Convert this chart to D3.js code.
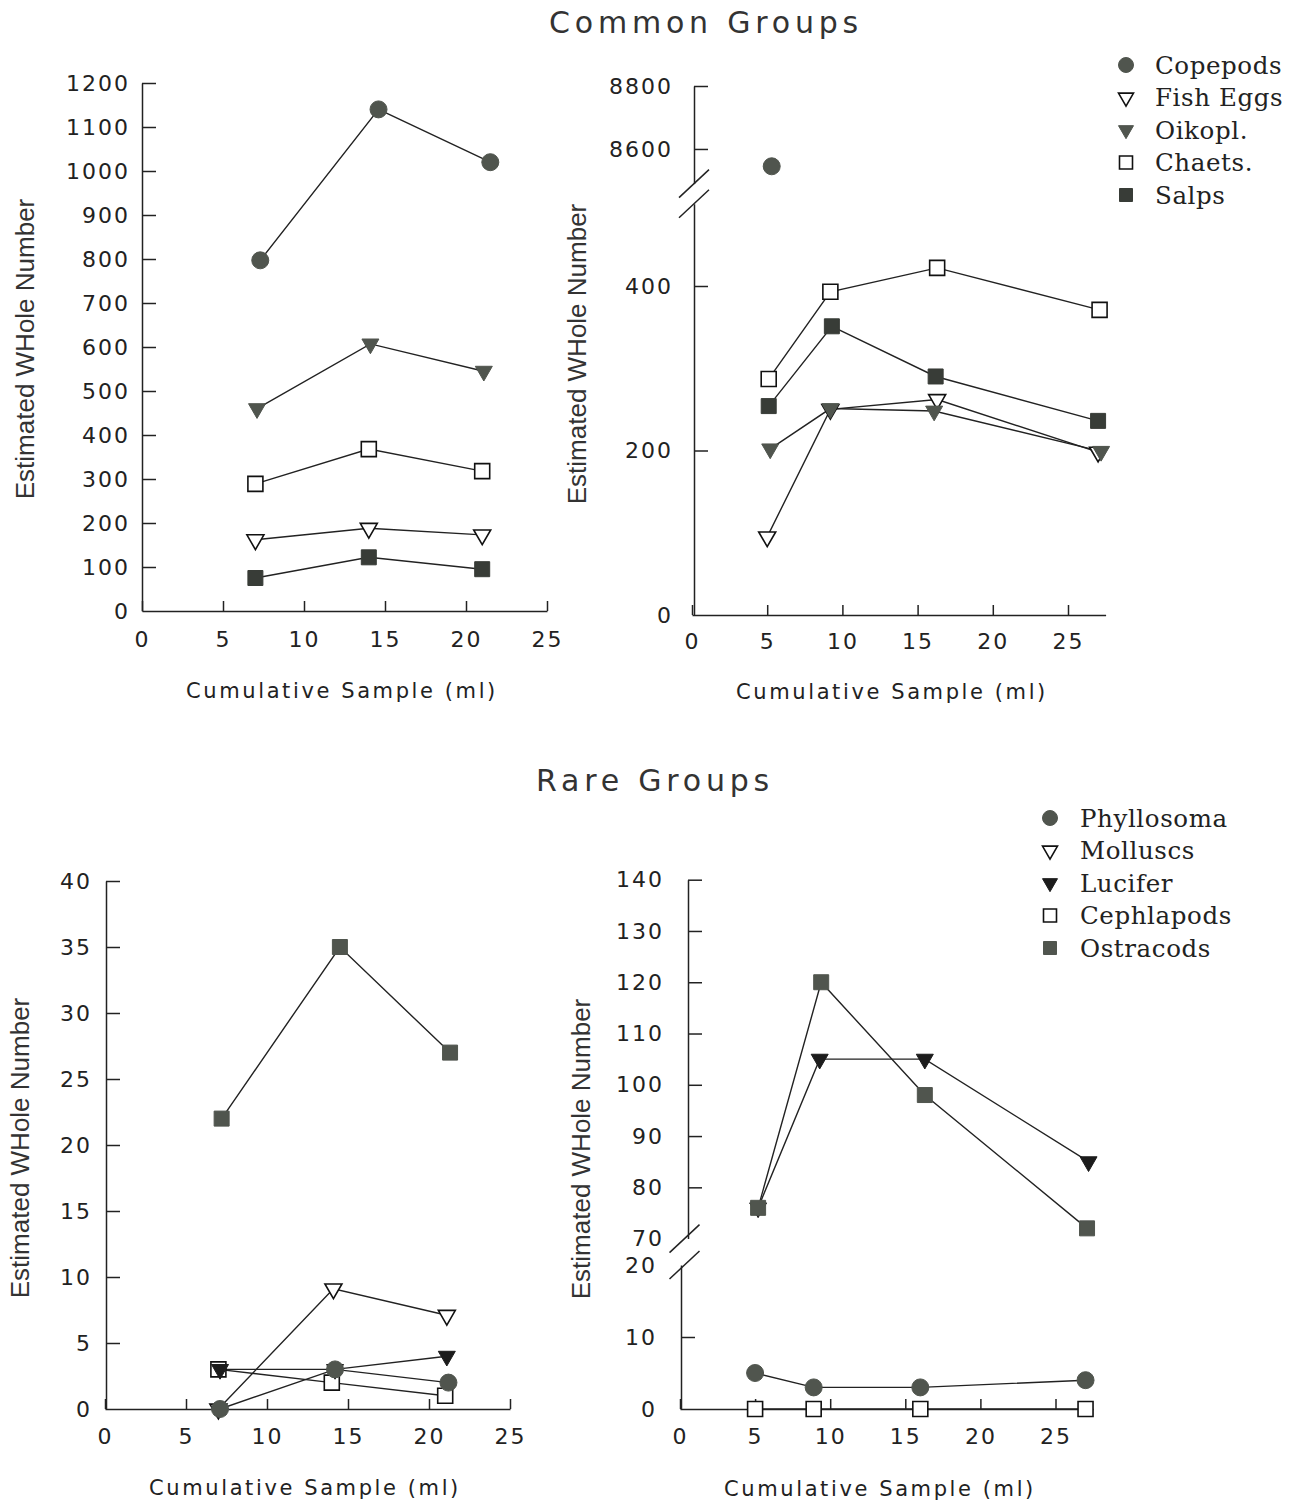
<!DOCTYPE html>
<html>
<head>
<meta charset="utf-8">
<script src="https://cdn.jsdelivr.net/npm/d3@7"></script>
<style>
    body { margin: 0; background: #fff; }
    svg { display: block; }
    .axis .domain, .axis line { stroke: #222; stroke-width: 1.5; }
    .axis text { font-family: "DejaVu Sans", sans-serif; font-size: 22px; letter-spacing: 2px; fill: #222; }
    .xtitle { font-family: "DejaVu Sans", sans-serif; font-size: 21px; letter-spacing: 2.6px; fill: #222; }
    .ytitle { font-family: "Liberation Sans", Arial, sans-serif; font-size: 26px; fill: #333; }
    .title { font-family: "DejaVu Sans", sans-serif; font-size: 30px; letter-spacing: 4.8px; fill: #333; }
    .legend text { font-family: "DejaVu Serif", serif; font-size: 24.5px; letter-spacing: 0.6px; fill: #222; }
</style>
</head>
<body>
<div id="chart"></div>
<script>
// ---- data ----
const commonGroups = ["Copepods", "Fish Eggs", "Oikopl.", "Chaets.", "Salps"];
const rareGroups = ["Phyllosoma", "Molluscs", "Lucifer", "Cephlapods", "Ostracods"];

const xTickValues = [0, 5, 10, 15, 20, 25];
const commonLeftTicks = [0, 100, 200, 300, 400, 500, 600, 700, 800, 900, 1000, 1100, 1200];
const commonRightLowTicks = [0, 200, 400];
const commonRightHighTicks = [8600, 8800];
const rareLeftTicks = [0, 5, 10, 15, 20, 25, 30, 35, 40];
const rareRightLowTicks = [0, 10, 20];
const rareRightHighTicks = [70, 80, 90, 100, 110, 120, 130, 140];

// [cumulative sample (ml), estimated whole number]
const commonLeft = [
    {group: "Copepods",  pts: [[7.3, 797], [14.6, 1140], [21.5, 1020]]},
    {group: "Fish Eggs", pts: [[7.0, 162], [14.0, 188], [21.0, 173]]},
    {group: "Oikopl.",   pts: [[7.1, 460], [14.1, 607], [21.1, 545]]},
    {group: "Chaets.",   pts: [[7.0, 289], [14.0, 368], [21.0, 318]]},
    {group: "Salps",     pts: [[7.0, 75], [14.0, 122], [21.0, 95]]}
];
const commonRight = [
    {group: "Copepods",  pts: [[5.3, 8545]]},
    {group: "Fish Eggs", pts: [[5.0, 95], [9.2, 250], [16.3, 262], [27.0, 198]]},
    {group: "Oikopl.",   pts: [[5.2, 202], [9.2, 251], [16.1, 248], [27.2, 199]]},
    {group: "Chaets.",   pts: [[5.1, 287], [9.2, 393], [16.3, 422], [27.1, 371]]},
    {group: "Salps",     pts: [[5.1, 254], [9.3, 351], [16.2, 290], [27.0, 236]]}
];
// listed in drawing order (later ones sit on top)
const rareLeft = [
    {group: "Cephlapods", pts: [[7.0, 3], [14.0, 2], [21.0, 1]]},
    {group: "Molluscs",   pts: [[7.0, 0], [14.1, 9.1], [21.1, 7.1]]},
    {group: "Lucifer",    pts: [[7.1, 3], [14.2, 3], [21.1, 4]]},
    {group: "Phyllosoma", pts: [[7.1, 0], [14.2, 3], [21.2, 2]]},
    {group: "Ostracods",  pts: [[7.2, 22], [14.5, 35], [21.3, 27]]}
];
const rareRight = [
    {group: "Phyllosoma", pts: [[5.0, 5], [8.9, 3], [16.0, 3], [27.0, 4]]},
    {group: "Lucifer",    pts: [[5.2, 76], [9.3, 105], [16.3, 105], [27.2, 85]]},
    {group: "Cephlapods", pts: [[5.0, 0], [8.9, 0], [16.0, 0], [27.0, 0]]},
    {group: "Ostracods",  pts: [[5.2, 76], [9.4, 120], [16.3, 98], [27.1, 72]]}
];

// ---- marker looks ----
const markerStyle = {
    "Copepods":   {shape: "circle",   fill: "#50554e"},
    "Fish Eggs":  {shape: "triangle", fill: "#fff"},
    "Oikopl.":    {shape: "triangle", fill: "#50554e"},
    "Chaets.":    {shape: "square",   fill: "#fff"},
    "Salps":      {shape: "square",   fill: "#383c37"},
    "Phyllosoma": {shape: "circle",   fill: "#50554e"},
    "Molluscs":   {shape: "triangle", fill: "#fff"},
    "Lucifer":    {shape: "triangle", fill: "#1c1c1c"},
    "Cephlapods": {shape: "square",   fill: "#fff"},
    "Ostracods":  {shape: "square",   fill: "#50554e"}
};

function symbolPath(shape, s) {
    if (shape === "circle") return d3.symbol(d3.symbolCircle, Math.PI * (s / 2) * (s / 2))();
    if (shape === "square") return d3.symbol(d3.symbolSquare, s * s)();
    return d3.symbol(d3.symbolTriangle, Math.sqrt(3) / 4 * s * s)();
}

function drawMarker(sel, group, s) {
    const st = markerStyle[group];
    const size = st.shape === "square" ? s : s + 2;
    sel.append("path")
        .attr("d", symbolPath(st.shape, size))
        .attr("transform", st.shape === "triangle" ? "rotate(180)" : null)
        .attr("fill", st.fill)
        .attr("stroke", st.fill === "#fff" ? "#111" : st.fill)
        .attr("stroke-width", st.fill === "#fff" ? 1.6 : 1);
}

const svg = d3.select("#chart").append("svg")
    .attr("width", 1301)
    .attr("height", 1505)
    .style("background", "#fff");

function panel(p) {
    const g = svg.append("g");
    const xEnd = p.x0 + (p.x25 - p.x0) * p.xMax / 25;
    const x = d3.scaleLinear().domain([0, p.xMax]).range([p.x0, xEnd]);
    const lo = d3.scaleLinear().domain(p.loDomain).range(p.loRange);
    const hi = p.hiDomain ? d3.scaleLinear().domain(p.hiDomain).range(p.hiRange) : null;
    const y = v => (hi && v >= p.hiDomain[0]) ? hi(v) : lo(v);

    // x axis, ticks pointing inward
    g.append("g").attr("class", "axis")
        .attr("transform", `translate(0,${p.loRange[0]})`)
        .call(d3.axisBottom(x).tickValues(xTickValues).tickSize(-10)
            .tickSizeOuter(0).tickPadding(p.xPad).tickFormat(d3.format("d")));

    // y axis (lower part)
    const yl = g.append("g").attr("class", "axis")
        .attr("transform", `translate(${p.yAxisX},0)`)
        .call(d3.axisLeft(lo).tickValues(p.loTicks).tickSize(-14)
            .tickSizeOuter(0).tickPadding(p.yPad).tickFormat(d3.format("d")));
    yl.selectAll(".tick").filter(d => d === 0).select("line").remove();

    if (hi) {
        const yh = g.append("g").attr("class", "axis")
            .attr("transform", `translate(${p.yAxisXHi},0)`)
            .call(d3.axisLeft(hi).tickValues(p.hiTicks).tickSize(-14)
                .tickSizeOuter(0).tickPadding(p.yPad).tickFormat(d3.format("d")));
        if (p.bare) {
            yl.selectAll(".tick").filter(d => p.bare.includes(d)).select("line").remove();
            yh.selectAll(".tick").filter(d => p.bare.includes(d)).select("line").remove();
        }
        // break marks
        const bx = (p.yAxisX + p.yAxisXHi) / 2;
        [hi.range()[0], lo.range()[1]].forEach(by => {
            g.append("line")
                .attr("x1", bx - 15).attr("y1", by + 14)
                .attr("x2", bx + 15).attr("y2", by - 14)
                .attr("stroke", "#222").attr("stroke-width", 1.5);
        });
    }

    // connecting lines
    const line = d3.line().x(d => x(d[0])).y(d => y(d[1]));
    g.selectAll("path.series")
        .data(p.series)
        .join("path")
        .attr("class", "series")
        .attr("d", d => line(d.pts))
        .attr("fill", "none")
        .attr("stroke", "#222")
        .attr("stroke-width", 1.4);

    // markers
    p.series.forEach(s => {
        s.pts.forEach(pt => {
            const m = g.append("g").attr("transform", `translate(${x(pt[0])},${y(pt[1])})`);
            drawMarker(m, s.group, 15);
        });
    });

    // axis titles
    g.append("text").attr("class", "xtitle")
        .attr("x", p.xTitle[0]).attr("y", p.xTitle[1])
        .attr("text-anchor", "middle").attr("dominant-baseline", "central")
        .text("Cumulative Sample (ml)");
    g.append("text").attr("class", "ytitle")
        .attr("transform", `translate(${p.yTitle[0]},${p.yTitle[1]}) rotate(-90)`)
        .attr("text-anchor", "middle").attr("dominant-baseline", "central")
        .text("Estimated WHole Number");
}

function legend(groups, lx, tx, y0, step) {
    const lg = svg.append("g").attr("class", "legend");
    groups.forEach((name, i) => {
        const yy = y0 + i * step;
        const m = lg.append("g").attr("transform", `translate(${lx},${yy})`);
        drawMarker(m, name, 13);
        lg.append("text")
            .attr("x", tx).attr("y", yy)
            .attr("dominant-baseline", "central")
            .text(name);
    });
}

// titles
svg.append("text").attr("class", "title").attr("x", 706).attr("y", 22)
    .attr("text-anchor", "middle").attr("dominant-baseline", "central").text("Common Groups");
svg.append("text").attr("class", "title").attr("x", 655).attr("y", 780)
    .attr("text-anchor", "middle").attr("dominant-baseline", "central").text("Rare Groups");

panel({
    series: commonLeft, x0: 142, x25: 547, xMax: 25, xPad: 20, yPad: 12,
    yAxisX: 142, loDomain: [0, 1200], loRange: [611, 83], loTicks: commonLeftTicks,
    xTitle: [342, 691], yTitle: [25, 349]
});
panel({
    series: commonRight, x0: 692, x25: 1068, xMax: 27.5, xPad: 18, yPad: 21,
    yAxisX: 694, yAxisXHi: 694,
    loDomain: [0, 500], loRange: [615, 203.75], loTicks: commonRightLowTicks,
    hiDomain: [8490, 8800], hiRange: [183.6, 86], hiTicks: commonRightHighTicks,
    xTitle: [892, 692], yTitle: [577, 354]
});
panel({
    series: rareLeft, x0: 105, x25: 510, xMax: 25, xPad: 19, yPad: 14,
    yAxisX: 106, loDomain: [0, 40], loRange: [1409, 881], loTicks: rareLeftTicks,
    xTitle: [305, 1488], yTitle: [20, 1148]
});
panel({
    series: rareRight, x0: 680, x25: 1055.5, xMax: 27.5, xPad: 19, yPad: 24,
    yAxisX: 681, yAxisXHi: 688,
    loDomain: [0, 20], loRange: [1409, 1265], loTicks: rareRightLowTicks,
    hiDomain: [70, 140], hiRange: [1238.6, 879.7], hiTicks: rareRightHighTicks,
    bare: [20, 70],
    xTitle: [880, 1489], yTitle: [581, 1149]
});

legend(commonGroups, 1126, 1155, 65, 32.5);
legend(rareGroups, 1050, 1080, 818, 32.5);
</script>
</body>
</html>
